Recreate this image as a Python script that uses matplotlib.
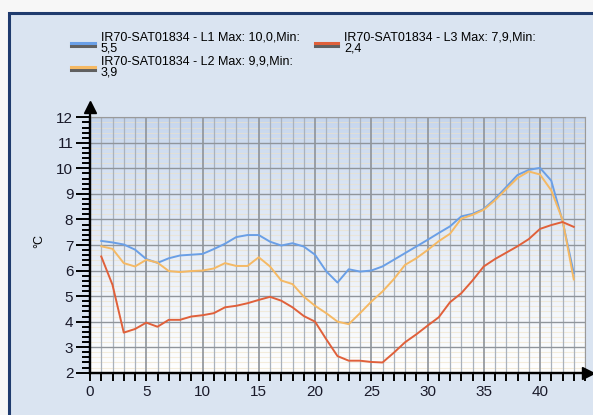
import numpy as np
import matplotlib
matplotlib.use('Agg')
import matplotlib.pyplot as plt
import matplotlib.patheffects as pe
from matplotlib.lines import Line2D
from matplotlib.patches import Rectangle
from matplotlib.ticker import MultipleLocator

plt.rcParams['font.family'] = ['Liberation Sans', 'DejaVu Sans']

# sample index
x = list(range(1, 44))

# temperatures
l1 = [7.16, 7.1, 7.02, 6.82, 6.45, 6.3, 6.48, 6.59, 6.62, 6.65,
      6.84, 7.05, 7.31, 7.39, 7.39, 7.13, 6.98, 7.07, 6.94, 6.62,
      5.97, 5.53, 6.05, 5.96, 6.0, 6.16, 6.42, 6.68, 6.94, 7.2,
      7.47, 7.73, 8.12, 8.22, 8.41, 8.81, 9.27, 9.74, 9.94, 10.02,
      9.52, 7.95, 5.9]
l2 = [6.95, 6.85, 6.29, 6.16, 6.42, 6.31, 5.98, 5.94, 5.98, 6.0,
      6.08, 6.29, 6.18, 6.18, 6.52, 6.16, 5.61, 5.47, 4.98, 4.62,
      4.33, 4.0, 3.9, 4.33, 4.78, 5.18, 5.66, 6.22, 6.48, 6.8,
      7.15, 7.44, 8.03, 8.18, 8.38, 8.75, 9.19, 9.62, 9.88, 9.76,
      9.14, 7.99, 5.65]
l3 = [6.55, 5.44, 3.57, 3.71, 3.96, 3.8, 4.07, 4.07, 4.2, 4.25,
      4.33, 4.56, 4.62, 4.72, 4.85, 4.97, 4.82, 4.56, 4.22, 4.0,
      3.31, 2.65, 2.47, 2.47, 2.42, 2.4, 2.78, 3.19, 3.5, 3.84,
      4.17, 4.76, 5.11, 5.61, 6.16, 6.45, 6.7, 6.95, 7.23, 7.63,
      7.78, 7.9, 7.71]

labels = ['IR70-SAT01834 - L1 Max: 10,0,Min:\n5,5',
          'IR70-SAT01834 - L2 Max: 9,9,Min:\n3,9',
          'IR70-SAT01834 - L3 Max: 7,9,Min:\n2,4']
colors = ['#6a9fe6', '#f5b964', '#e0603a']

W, H = 593, 415
fig = plt.figure(figsize=(W / 100, H / 100), dpi=100)
fig.patch.set_facecolor('#f7f7f7')

# panel background with dark border
fig.patches.append(Rectangle((9 / W, -0.05), 1.0, 1 - 13 / H + 0.05,
                             transform=fig.transFigure, facecolor='#dae4f1',
                             edgecolor='#1f3b6e', lw=2.2, zorder=-1))

ax = fig.add_axes([90 / W, 1 - 372.7 / H, 495 / W, 255.4 / H])
ax.set_zorder(2)
ax.set_xlim(0, 44)
ax.set_ylim(2, 12)
ax.patch.set_alpha(0)

# gradient plot area
grad = np.linspace(0, 1, 256).reshape(-1, 1)
top = np.array([0.77, 0.835, 0.93])
bot = np.array([1.0, 1.0, 1.0])
img = top + (bot - top) * grad[..., None] ** 0.8
ax.imshow(img, extent=[0, 44, 2, 12], aspect='auto', origin='upper', zorder=0)

# grid
for v in np.arange(2, 12.01, 0.2):
    if abs(v - round(v)) > 0.01:
        ax.axhline(v, color='#efe2c6', lw=0.8, alpha=0.6, zorder=1)
for v in range(0, 45):
    ax.axvline(v, color='#8e9399' if v % 5 == 0 else '#aab2bc',
               lw=1.2 if v % 5 == 0 else 0.9, zorder=1)
for v in range(3, 13):
    ax.axhline(v, color='#90959b', lw=1.0, zorder=1)

for s, c, lab in zip([l1, l2, l3], colors, labels):
    ax.plot(x, s, color=c, lw=1.4, label=lab, zorder=3)

# axes styling
for side in ['top', 'right']:
    ax.spines[side].set_color('#9a9a9a')
ax.spines['left'].set_linewidth(1.6)
ax.spines['bottom'].set_linewidth(1.6)
ax.plot([0, 0], [2, 12.4], color='k', lw=1.6, clip_on=False, zorder=5)
ax.plot([0, 44.2], [2, 2], color='k', lw=1.6, clip_on=False, zorder=5)
ax.plot(0, 12.4, marker='^', ms=9, color='k', clip_on=False, zorder=6)
ax.plot(44.3, 2, marker='>', ms=9, color='k', clip_on=False, zorder=6)

ax.yaxis.set_major_locator(MultipleLocator(1))
ax.yaxis.set_minor_locator(MultipleLocator(0.2))
ax.xaxis.set_major_locator(MultipleLocator(5))
ax.xaxis.set_minor_locator(MultipleLocator(1))
ax.tick_params(axis='y', which='major', length=10, width=1.4, labelsize=11, pad=2)
ax.tick_params(axis='y', which='minor', length=6, width=1.4)
ax.tick_params(axis='x', which='both', length=6, width=1.4, labelsize=11, pad=3)
ax.tick_params(colors='k', labelcolor='#1a1a2a')

fig.text(39 / W, 1 - 241 / H, '°C', rotation=90, fontsize=9,
         ha='center', va='center')

handles = [Line2D([], [], color=c, lw=2.2,
                  path_effects=[pe.SimpleLineShadow(offset=(0, -1.8), shadow_color='#606060', alpha=1),
                                pe.Normal()]) for c in colors]
leg = fig.legend([handles[0], handles[1], handles[2]], labels, ncol=2,
                 loc='upper left', bbox_to_anchor=(60 / W, 1 - 20 / H),
                 frameon=False, fontsize=9, handlelength=1.9,
                 handletextpad=0.45, columnspacing=1.2, labelspacing=0.05)
for t in leg.get_texts():
    t.set_linespacing(0.95)

fig.savefig('out.png', dpi=100)
